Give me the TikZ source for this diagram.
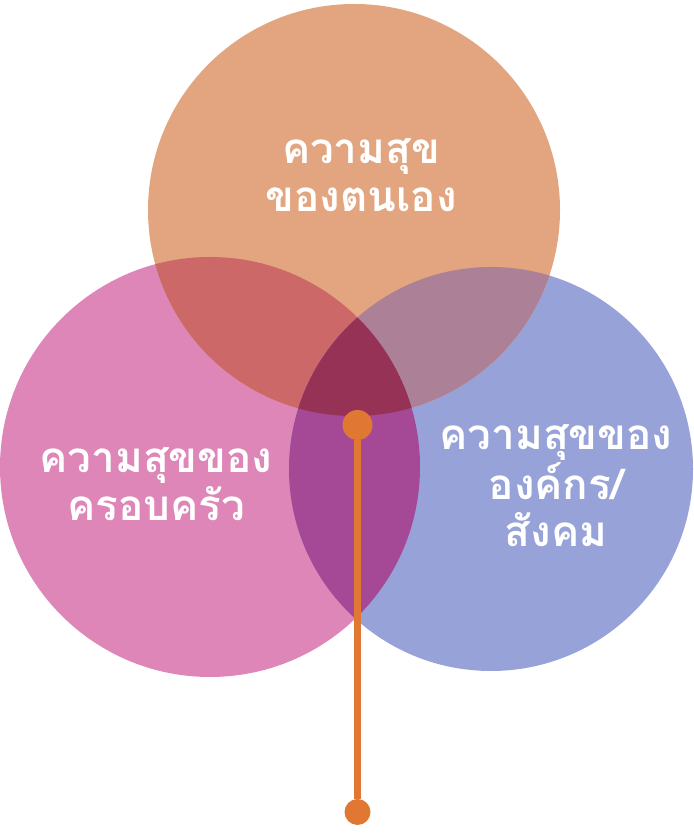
\documentclass[tikz,border=0pt]{standalone}
\usepackage{fontspec}
\newfontfamily\thaifont[Script=Thai]{Loma}
\definecolor{selfc}{RGB}{227,165,127}
\definecolor{famc}{RGB}{222,134,184}
\definecolor{orgc}{RGB}{151,162,216}
\definecolor{selffamc}{RGB}{204,104,104}
\definecolor{selforgc}{RGB}{172,128,150}
\definecolor{famorgc}{RGB}{165,72,150}
\definecolor{allc}{RGB}{150,50,85}
\definecolor{pinc}{RGB}{224,120,52}
\def\selfC{(7.08,12.52) circle (4.12)}
\def\famC{(4.2,7.38) circle (4.2)}
\def\orgC{(9.82,7.34) circle (4.04)}

\begin{document}
\begin{tikzpicture}[
  circtext/.style={text=white, align=center, inner sep=0pt,
    font=\thaifont\bfseries\fontsize{24}{27}\selectfont},
  pin/.style={circle, fill=pinc, inner sep=0pt}]
  \useasboundingbox (0,0) rectangle (13.86,16.72);
  % Circles
  \fill[famc] \famC;
  \fill[orgc] \orgC;
  \fill[selfc] \selfC;
  % Overlaps
  \begin{scope} \clip \selfC; \fill[selffamc] \famC; \end{scope}
  \begin{scope} \clip \selfC; \fill[selforgc] \orgC; \end{scope}
  \begin{scope} \clip \famC; \fill[famorgc] \orgC; \end{scope}
  \begin{scope} \clip \selfC; \clip \famC; \fill[allc] \orgC; \end{scope}
  % Labels
  \node[circtext] (self) at (7.22,13.22) {ความสุข\\ของตนเอง};
  \node[circtext] (fam) at (3.12,7.04) {ความสุขของ\\ครอบครัว};
  \node[circtext] (org) at (11.12,7.0) {ความสุขของ\\องค์กร/\\สังคม};
  % Pin
  \node[pin, minimum size=0.6cm] (hub) at (7.15,8.22) {};
  \node[pin, minimum size=0.52cm] (foot) at (7.15,0.48) {};
  \draw[pinc, line width=4.5pt] (hub) -- (foot);
\end{tikzpicture}
\end{document}
